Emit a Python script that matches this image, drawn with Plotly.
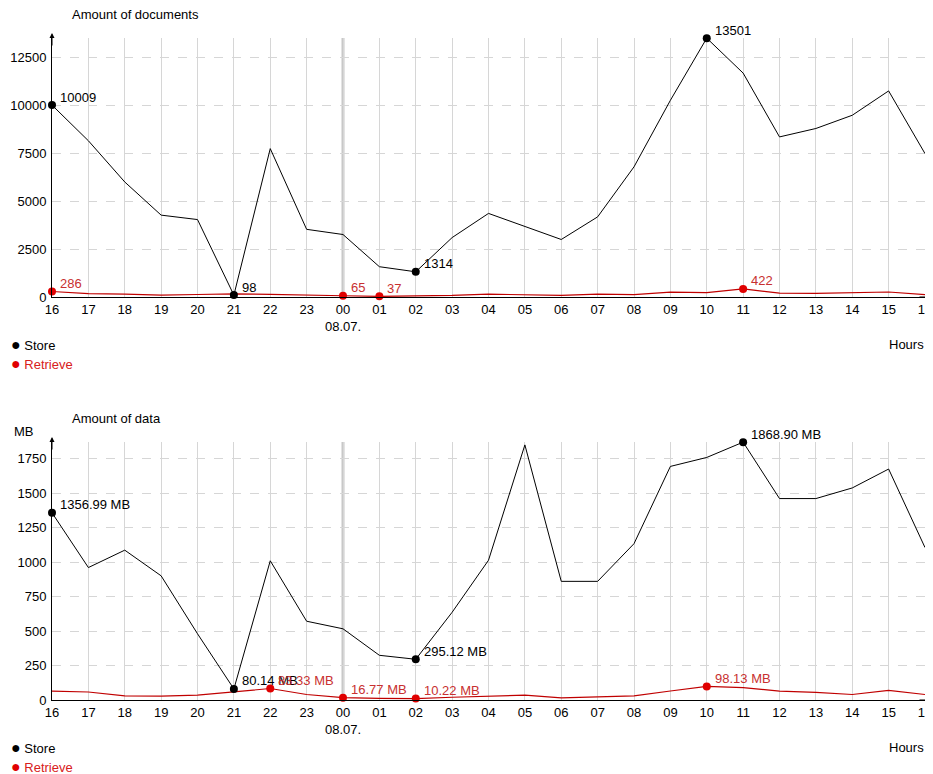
import plotly.graph_objects as go

# ── data ──────────────────────────────────────────────────────────────────────
HOURS = ["16", "17", "18", "19", "20", "21", "22", "23", "00", "01", "02", "03",
         "04", "05", "06", "07", "08", "09", "10", "11", "12", "13", "14", "15", "16"]
DATE_LABEL = "08.07."
MIDNIGHT = 8

DOCS_STORE = [10009, 8150, 6000, 4270, 4040, 98, 7740, 3530, 3260, 1580, 1314, 3100,
              4360, 3700, 3000, 4180, 6790, 10260, 13501, 11680, 8350, 8790, 9480, 10750, 7480]
DOCS_RETRIEVE = [286, 180, 150, 100, 130, 160, 140, 120, 65, 37, 40, 80,
                 150, 120, 80, 150, 120, 250, 230, 422, 200, 190, 230, 260, 120]
DOCS_STORE_MARKED = [0, 5, 10, 18]
DOCS_RETRIEVE_MARKED = [0, 8, 9, 19]
DOCS_TICKS = [0, 2500, 5000, 7500, 10000, 12500]

DATA_STORE = [1356.99, 960, 1086, 900, 480, 80.14, 1009, 571, 516, 324, 295.12, 636,
              1013, 1849, 860, 860, 1133, 1693, 1758, 1868.90, 1460, 1460, 1537, 1674, 1105]
DATA_RETRIEVE = [65, 58, 30, 28, 35, 60, 83.33, 40, 16.77, 12, 10.22, 20,
                 25, 35, 15, 25, 30, 65, 98.13, 90, 65, 55, 40, 70, 40]
DATA_STORE_MARKED = [0, 5, 10, 19]
DATA_RETRIEVE_MARKED = [6, 8, 10, 18]
DATA_TICKS = [0, 250, 500, 750, 1000, 1250, 1500, 1750]

# ── style ─────────────────────────────────────────────────────────────────────
# the page body keeps an 8px margin, so the figure is 8px smaller and positions
# below are given in window pixels, shifted back by that offset
OFFSET = 8
W, H = 933 - OFFSET, 774 - OFFSET
FONT = "Liberation Sans, Arial, sans-serif"
BLACK = "#000000"
RED_LINE = "#c00000"
RED_DOT = "#e00000"
RED_TEXT = "#c83030"
GRID = "#d6d6d6"


def px(x):
    return (x - OFFSET) / W


def py(y):
    return 1 - (y - OFFSET) / H


x_labels = [h if i != MIDNIGHT else f"{h}<br>{DATE_LABEL}" for i, h in enumerate(HOURS)]
xs = list(range(len(HOURS)))

fig = go.Figure()
annotations = []
shapes = []


def panel(n, store, retrieve, store_marked, retrieve_marked, ticks, ymax,
          y_bottom, y_top, title, fmt, unit_label=None):
    xa = "x" if n == 1 else f"x{n}"
    ya = "y" if n == 1 else f"y{n}"
    fig.add_trace(go.Scatter(x=xs, y=retrieve, mode="lines", xaxis=xa, yaxis=ya,
                             line=dict(color=RED_LINE, width=1.2), hoverinfo="skip"))
    fig.add_trace(go.Scatter(x=xs, y=store, mode="lines", xaxis=xa, yaxis=ya,
                             cliponaxis=False,
                             line=dict(color=BLACK, width=1), hoverinfo="skip"))
    fig.add_trace(go.Scatter(x=store_marked, y=[store[i] for i in store_marked],
                             mode="markers", xaxis=xa, yaxis=ya, cliponaxis=False,
                             marker=dict(color=BLACK, size=8), hoverinfo="skip"))
    fig.add_trace(go.Scatter(x=retrieve_marked, y=[retrieve[i] for i in retrieve_marked],
                             mode="markers", xaxis=xa, yaxis=ya, cliponaxis=False,
                             marker=dict(color=RED_DOT, size=8), hoverinfo="skip"))

    for idx in store_marked:
        annotations.append(dict(x=idx, y=store[idx], xref=xa, yref=ya, text=fmt(store[idx]),
                                showarrow=False, xanchor="left", yanchor="middle",
                                xshift=6, yshift=8, font=dict(color=BLACK, size=13)))
    for idx in retrieve_marked:
        annotations.append(dict(x=idx, y=retrieve[idx], xref=xa, yref=ya,
                                text=fmt(retrieve[idx]), showarrow=False,
                                xanchor="left", yanchor="middle", xshift=6, yshift=8,
                                font=dict(color=RED_TEXT, size=13)))

    axis_x = dict(domain=[px(52), px(925)], range=[0, 24], anchor=ya, automargin=False,
                  tickvals=xs, ticktext=x_labels, showgrid=True, gridcolor=GRID,
                  gridwidth=1, showline=True, linecolor=BLACK, linewidth=1,
                  zeroline=False, ticks="",
                  tickfont=dict(size=13, color=BLACK), fixedrange=True)
    axis_y = dict(domain=[py(y_bottom), py(y_top)], range=[0, ymax], anchor=xa,
                  automargin=False, tickvals=ticks, ticktext=[str(t) for t in ticks],
                  showgrid=True, gridcolor=GRID, griddash="dash",
                  showline=True, linecolor=BLACK, linewidth=1, zeroline=False,
                  ticks="outside", ticklen=2, tickcolor="rgba(0,0,0,0)",
                  tickfont=dict(size=13, color=BLACK), fixedrange=True)
    fig.update_layout(**{("xaxis" if n == 1 else f"xaxis{n}"): axis_x,
                         ("yaxis" if n == 1 else f"yaxis{n}"): axis_y})

    # thicker midnight line
    shapes.append(dict(type="line", xref=xa, yref=f"{ya} domain", x0=MIDNIGHT, x1=MIDNIGHT,
                       y0=0, y1=1, line=dict(color="#c8c8c8", width=3), layer="below"))

    # axis arrows
    annotations.append(dict(xref="paper", yref="paper", x=px(932), y=py(y_bottom),
                            ax=-14, ay=0, text="", showarrow=True, arrowhead=2,
                            arrowsize=1, arrowwidth=1, arrowcolor=BLACK, standoff=0))
    annotations.append(dict(xref="paper", yref="paper", x=px(52), y=py(y_top - 5),
                            ax=0, ay=14, text="", showarrow=True, arrowhead=2,
                            arrowsize=1, arrowwidth=1, arrowcolor=BLACK, standoff=0))

    # title, unit, legend, hours
    annotations.append(dict(xref="paper", yref="paper", x=px(70), y=py(y_top - 23),
                            text=title, showarrow=False, xanchor="left", yanchor="middle",
                            font=dict(size=13, color=BLACK)))
    if unit_label:
        annotations.append(dict(xref="paper", yref="paper", x=px(12), y=py(y_top - 11),
                                text=unit_label, showarrow=False, xanchor="left",
                                yanchor="middle", font=dict(size=13, color=BLACK)))
    annotations.append(dict(xref="paper", yref="paper", x=px(9), y=py(y_bottom + 47),
                            text="<span style='font-size:16px'>●</span> Store",
                            showarrow=False, xanchor="left",
                            yanchor="middle", font=dict(size=13, color=BLACK)))
    annotations.append(dict(xref="paper", yref="paper", x=px(9), y=py(y_bottom + 66),
                            text="<span style='color:#e00000;font-size:16px'>●</span> Retrieve",
                            showarrow=False, xanchor="left", yanchor="middle",
                            font=dict(size=13, color="#d82020")))
    annotations.append(dict(xref="paper", yref="paper", x=px(926), y=py(y_bottom + 47),
                            text="Hours", showarrow=False, xanchor="right",
                            yanchor="middle", font=dict(size=13, color=BLACK)))


panel(1, DOCS_STORE, DOCS_RETRIEVE, DOCS_STORE_MARKED, DOCS_RETRIEVE_MARKED,
      DOCS_TICKS, 13510, 297, 38, "Amount of documents", lambda v: f"{v:.0f}")
panel(2, DATA_STORE, DATA_RETRIEVE, DATA_STORE_MARKED, DATA_RETRIEVE_MARKED,
      DATA_TICKS, 1870, 700, 442, "Amount of data", lambda v: f"{v:.2f} MB",
      unit_label="MB")

fig.update_layout(
    width=W, height=H,
    margin=dict(l=0, r=0, t=0, b=0),
    paper_bgcolor="white", plot_bgcolor="white",
    font=dict(family=FONT, size=13, color=BLACK),
    showlegend=False,
    annotations=annotations,
    shapes=shapes,
)

fig.write_html("out.html")
